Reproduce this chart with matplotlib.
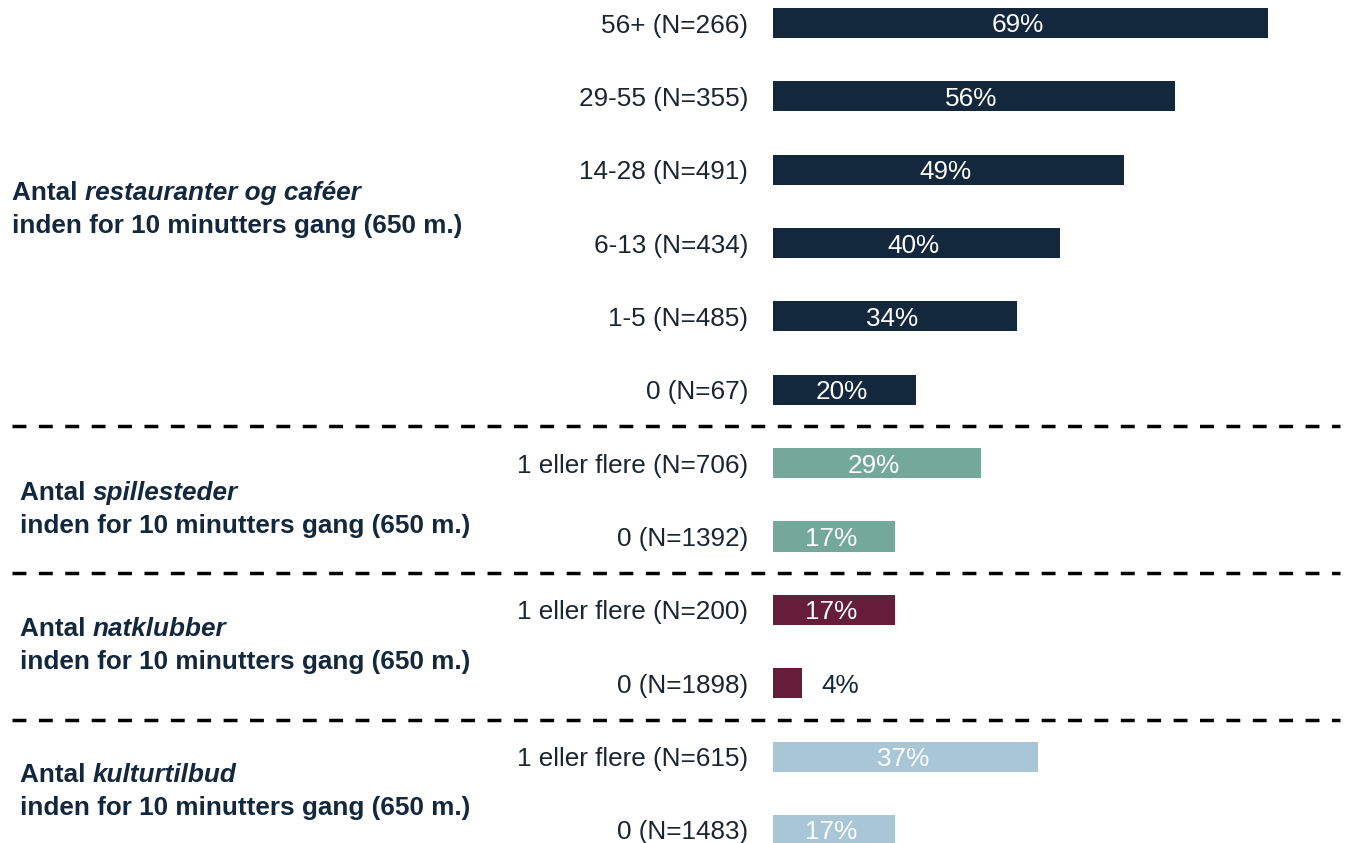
import matplotlib
matplotlib.use("Agg")
import matplotlib.pyplot as plt

plt.rcParams['font.family'] = ['Liberation Sans', 'DejaVu Sans']

# data
cat_labels = ["56+ (N=266)", "29-55 (N=355)", "14-28 (N=491)", "6-13 (N=434)",
              "1-5 (N=485)", "0 (N=67)",
              "1 eller flere (N=706)", "0 (N=1392)",
              "1 eller flere (N=200)", "0 (N=1898)",
              "1 eller flere (N=615)", "0 (N=1483)"]
values = [69, 56, 49, 40, 34, 20, 29, 17, 17, 4, 37, 17]
group_sizes = [6, 2, 2, 2]
group_names = ["restauranter og caféer", "spillesteder", "natklubber", "kulturtilbud"]

# styles
group_colors = ["#13283d", "#74a99a", "#651d3a", "#a8c6d6"]
text_color = "#13283d"
W, H = 1347, 843
FS = 18.8

fig = plt.figure(figsize=(W / 100, H / 100), dpi=100)
fig.patch.set_facecolor("white")

bar_left = 773
ax = fig.add_axes([bar_left / W, 0, 1 - bar_left / W, 1])
px_per_unit = 7.17
row_px = 73.36
ax.set_xlim(0, (W - bar_left) / px_per_unit)
ax.set_ylim((H - 23) / row_px, -23 / row_px)

colors = []
for c, n in zip(group_colors, group_sizes):
    colors += [c] * n

ypos = list(range(len(values)))
ax.barh(ypos, values, height=0.41, color=colors)

for y, v in zip(ypos, values):
    if v >= 10:
        ax.text(v / 2 - 0.4, y, f"{v}%", ha="center", va="center_baseline",
                color="white", fontsize=FS)
    else:
        ax.text(v + 2.8, y, f"{v}%", ha="left", va="center_baseline",
                color=text_color, fontsize=FS)

ax.set_yticks(ypos)
ax.set_yticklabels(cat_labels, fontsize=FS, color="#1b2530")
ax.tick_params(axis="y", length=0, pad=18)
ax.set_xticks([])
for s in ax.spines.values():
    s.set_visible(False)

# dashed separators between groups
axw = W - bar_left
start = 0
for n in group_sizes[:-1]:
    start += n
    ax.axhline(start - 0.5, xmin=(12 - bar_left) / axw, xmax=(1340 - bar_left) / axw,
               color="black", lw=2.5, linestyle=(0, (4.0, 3.6)), clip_on=False)

# group labels: "Antal" bold + name bold italic, then second line
label_pos = [(12, 193), (20, 493), (20, 629), (20, 775)]
for name, (x, y) in zip(group_names, label_pos):
    t1 = fig.text(x / W, 1 - y / H, "Antal ", fontsize=FS, fontweight="bold",
                  color=text_color, ha="left", va="center")
    fig.canvas.draw()
    ann = fig.text(0, 0, name, fontsize=FS, fontweight="bold", fontstyle="italic",
                   color=text_color, ha="left", va="center")
    bb = t1.get_window_extent()
    ann.set_position((bb.x1 / W, 1 - y / H))
    fig.text(x / W, 1 - (y + 33) / H, "inden for 10 minutters gang (650 m.)",
             fontsize=FS, fontweight="bold", color=text_color, ha="left", va="center")

fig.savefig("out.png", dpi=100)
